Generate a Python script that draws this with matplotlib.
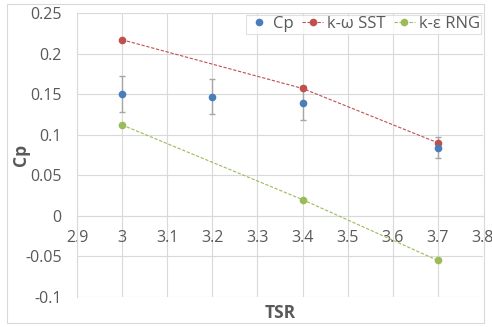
import matplotlib
matplotlib.use("Agg")
import matplotlib.pyplot as plt
from matplotlib.patches import Rectangle

# data
tsr_exp = [3.0, 3.2, 3.4, 3.7]
cp_exp = [0.150, 0.147, 0.139, 0.084]
cp_err = [0.022, 0.022, 0.021, 0.013]

tsr_cfd = [3.0, 3.4, 3.7]
cp_sst = [0.217, 0.157, 0.090]
cp_rng = [0.112, 0.020, -0.055]

xticks = [2.9, 3.0, 3.1, 3.2, 3.3, 3.4, 3.5, 3.6, 3.7, 3.8]
xlabels = ["2.9", "3", "3.1", "3.2", "3.3", "3.4", "3.5", "3.6", "3.7", "3.8"]
yticks = [-0.1, -0.05, 0, 0.05, 0.1, 0.15, 0.2, 0.25]
ylabels = ["-0.1", "-0.05", "0", "0.05", "0.1", "0.15", "0.2", "0.25"]

plt.rcParams['font.family'] = ['Open Sans', 'DejaVu Sans']
txt = '#595959'
grid = '#d9d9d9'

fig = plt.figure(figsize=(4.92, 3.27), dpi=100)
# chart area border
fig.patches.append(Rectangle((7/492, 4/327), 477/492, 319/327, transform=fig.transFigure,
                             fill=False, edgecolor='#d9d9d9', linewidth=0.8))
ax = fig.add_axes([77/492, 1 - 297/327, 406/492, 284/327])

ax.errorbar(tsr_exp, cp_exp, yerr=cp_err, fmt='none', ecolor='#a6a6a6',
            elinewidth=1, capsize=2, capthick=1, zorder=3)
ax.plot(tsr_exp, cp_exp, 'o', color='#4a7ebb', markersize=4.5, label='Cp', zorder=5)
ax.plot(tsr_cfd, cp_sst, '--o', color='#c0504d', linewidth=0.8, dashes=(3, 1.5),
        markersize=4.5, label='k-ω SST', zorder=4)
ax.plot(tsr_cfd, cp_rng, '--o', color='#9bbb59', linewidth=0.8, dashes=(3, 1.5),
        markersize=4.5, label='k-ε RNG', zorder=4)

ax.set_xlim(2.9, 3.8)
ax.set_ylim(-0.1, 0.25)
ax.set_xticks(xticks)
ax.set_xticklabels(xlabels)
ax.set_yticks(yticks)
ax.set_yticklabels(ylabels)
ax.grid(True, color=grid, linewidth=0.8)
ax.set_axisbelow(True)

for s in ['top', 'right']:
    ax.spines[s].set_visible(False)
ax.spines['bottom'].set_position(('data', 0))
ax.spines['bottom'].set_color(grid)
ax.spines['left'].set_color(grid)
ax.tick_params(length=0, labelsize=11.5, colors=txt, pad=10)
ax.tick_params(axis='y', pad=11)

ax.set_xlabel('TSR', fontsize=12.5, fontweight='bold', color=txt)
ax.xaxis.set_label_coords(0.5, -0.025)
ax.set_ylabel('Cp', fontsize=12.5, fontweight='bold', color=txt)
ax.yaxis.set_label_coords(-0.115, 0.5)

leg = ax.legend(loc='upper right', ncol=3, fontsize=12, frameon=True, fancybox=False,
                handlelength=1.3, handletextpad=0.2, columnspacing=0.5,
                borderpad=0.1, borderaxespad=0.1)
leg.get_frame().set_edgecolor(grid)
leg.get_frame().set_linewidth(0.8)
for t in leg.get_texts():
    t.set_color(txt)

fig.savefig('out.png', dpi=100)
